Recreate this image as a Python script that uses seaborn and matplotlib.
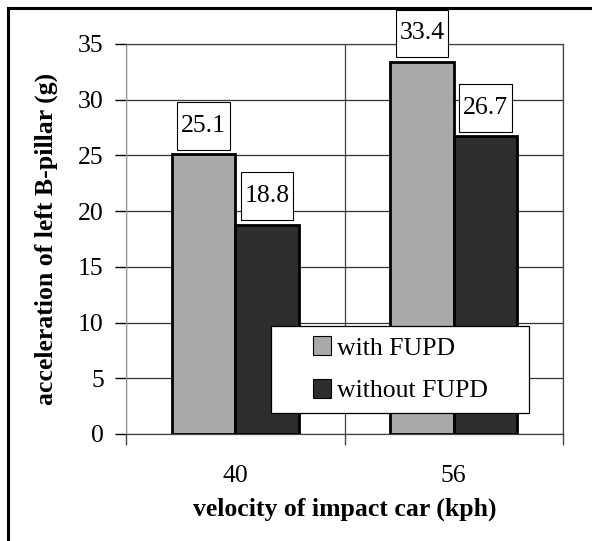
import matplotlib
matplotlib.use("Agg")
import matplotlib.pyplot as plt
import seaborn as sns
import pandas as pd
from matplotlib.patches import Rectangle
from matplotlib.path import Path

velocities = ["40", "56"]
series_names = ["with FUPD", "without FUPD"]
with_fupd = [25.1, 33.4]
without_fupd = [18.8, 26.7]
y_ticks = [0, 5, 10, 15, 20, 25, 30, 35]

df = pd.DataFrame({
    "velocity": velocities + velocities,
    "series": [series_names[0]] * len(velocities) + [series_names[1]] * len(velocities),
    "acc": with_fupd + without_fupd,
})

sns.set_theme(style="white")
plt.rcParams['font.family'] = ['Liberation Serif', 'DejaVu Serif']
for k in ['text.color', 'axes.labelcolor', 'xtick.color', 'ytick.color']:
    plt.rcParams[k] = 'black'

FS = 18.5

fig = plt.figure(figsize=(5.92, 5.41), dpi=100)
ax = fig.add_axes([126 / 592, 1 - 434 / 541, (563 - 126) / 592, (434 - 44) / 541])

sns.barplot(data=df, x="velocity", y="acc", hue="series",
            palette=["#a9a9a9", "#2e2e2e"], width=0.58, saturation=1,
            edgecolor="black", linewidth=2, ax=ax, zorder=3)

ax.set_axisbelow(True)
ax.set_xlim(-0.5, 1.5)
ax.set_ylim(0, 35)
ax.set_yticks(y_ticks)
ax.set_xticks([-0.5, 0.5, 1.5], minor=True)
ax.tick_params(axis='y', which='major', direction='out', length=8, width=1,
               color='black', labelsize=FS, pad=8, left=True)
ax.tick_params(axis='x', which='major', length=0, labelsize=FS, pad=22)
ax.tick_params(axis='x', which='minor', direction='out', length=8, width=1,
               color='#444444', bottom=True)
ax.yaxis.grid(True, which='major', color='#333333', linewidth=0.9)
ax.xaxis.grid(True, which='minor', color='#444444', linewidth=0.9)
ax.xaxis.grid(False, which='major')
for side, sp in ax.spines.items():
    sp.set_visible(True)
    sp.set_linewidth(0.9)
    sp.set_color('#444444')
ax.spines['left'].set_color('#999999')

ax.set_xlabel("velocity of impact car (kph)", fontsize=FS, fontweight='bold', labelpad=8)
ax.set_ylabel("acceleration of left B-pillar (g)", fontsize=FS, fontweight='bold', labelpad=14.5)


def label_box(x0, y0, width, height, mutation_size):
    px = 0.15 * mutation_size
    py = 0.5 * mutation_size
    x0, y0 = x0 - px, y0 - py
    x1, y1 = x0 + width + 2 * px, y0 + height + 2 * py
    return Path([(x0, y0), (x1, y0), (x1, y1), (x0, y1), (x0, y0)],
                [Path.MOVETO, Path.LINETO, Path.LINETO, Path.LINETO, Path.CLOSEPOLY])


for cont in ax.containers:
    for bar in cont:
        h = bar.get_height()
        ax.annotate(f"{h:.1f}", xy=(bar.get_x() + bar.get_width() / 2, h),
                    xytext=(0, 12.5), textcoords='offset points',
                    ha='center', va='bottom', fontsize=FS, zorder=5,
                    bbox=dict(boxstyle=label_box, fc='white', ec='black', lw=0.8),
                    annotation_clip=False)

EXTRA = 31  # extra horizontal frame padding in pixels


def legend_frame(x0, y0, width, height, mutation_size):
    x0 = x0 - EXTRA
    x1 = x0 + width + 2 * EXTRA
    y1 = y0 + height
    return Path([(x0, y0), (x1, y0), (x1, y1), (x0, y1), (x0, y0)],
                [Path.MOVETO, Path.LINETO, Path.LINETO, Path.LINETO, Path.CLOSEPOLY])


leg = ax.legend(loc='lower right', bbox_to_anchor=((529 - EXTRA - 126) / 437, (434 - 413) / 390),
                frameon=True, fancybox=False, edgecolor='black', framealpha=1, fontsize=FS,
                handlelength=0.72, handleheight=0.72, handletextpad=0.2,
                borderpad=0.41, labelspacing=0.77, borderaxespad=0, title=None)
leg.get_frame().set_linewidth(0.9)
leg.get_frame().set_boxstyle(legend_frame)
for hnd in leg.legend_handles:
    hnd.set_linewidth(0.8)
leg.set_zorder(10)

fig.add_artist(Rectangle((8 / 592, -0.1), 1.2, 1.1 - 8 / 541, transform=fig.transFigure,
                         fill=False, ec='black', lw=2.2))

fig.savefig("out.png", dpi=100, facecolor='white')
